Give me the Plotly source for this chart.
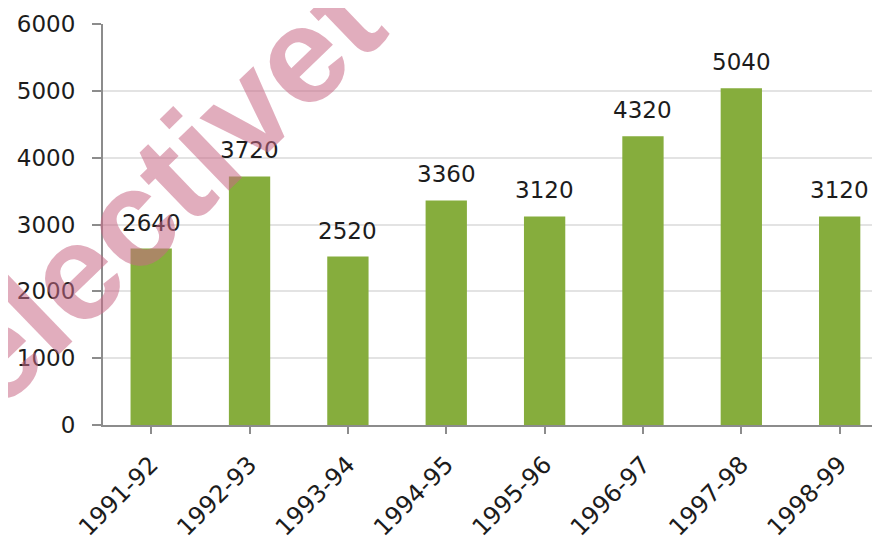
import plotly.graph_objects as go

categories = ["1991-92", "1992-93", "1993-94", "1994-95", "1995-96", "1996-97", "1997-98", "1998-99"]
values = [2640, 3720, 2520, 3360, 3120, 4320, 5040, 3120]
y_ticks = [0, 1000, 2000, 3000, 4000, 5000, 6000]

FONT = "DejaVu Sans"
TXT = "#1c1c1c"

fig = go.Figure()
fig.add_trace(go.Bar(
    x=categories, y=values,
    width=0.42,
    marker=dict(color="#86ad3d", line=dict(width=0)),
    hoverinfo="x+y",
))

for c, v in zip(categories, values):
    fig.add_annotation(x=c, y=v, text=str(v), showarrow=False,
                       yanchor="bottom", yshift=11,
                       font=dict(family=FONT, size=23, color=TXT))

# watermark
fig.add_annotation(xref="paper", yref="paper", x=0.075, y=0.588,
                   xanchor="center", yanchor="middle",
                   text="<b>electivet</b>", showarrow=False, textangle=-44,
                   font=dict(family="Liberation Sans", size=137, color="rgba(200,105,135,0.55)"))

# the page body adds an 8px margin, so the figure is offset by (8, 8)
fig.update_layout(
    width=880, height=540,
    margin=dict(l=95, r=8, t=16, b=123, autoexpand=False),
    paper_bgcolor="white", plot_bgcolor="white",
    showlegend=False,
    xaxis=dict(range=[-0.49, 7.41], showline=True, linecolor="#8c8c8c", linewidth=2,
               ticks="outside", ticklen=7, tickcolor="#8c8c8c", tickwidth=2,
               tickangle=-45, showgrid=False, ticklabelstandoff=7,
               tickfont=dict(family=FONT, size=24, color=TXT)),
    yaxis=dict(range=[0, 6000], tickvals=y_ticks, showline=True, linecolor="#8c8c8c", linewidth=2,
               ticks="outside", ticklen=9, tickcolor="#8c8c8c", tickwidth=2,
               gridcolor="#e3e3e3", gridwidth=2, zeroline=False,
               ticklabelstandoff=12,
               tickfont=dict(family=FONT, size=23, color=TXT)),
)

fig.write_html("out.html")
